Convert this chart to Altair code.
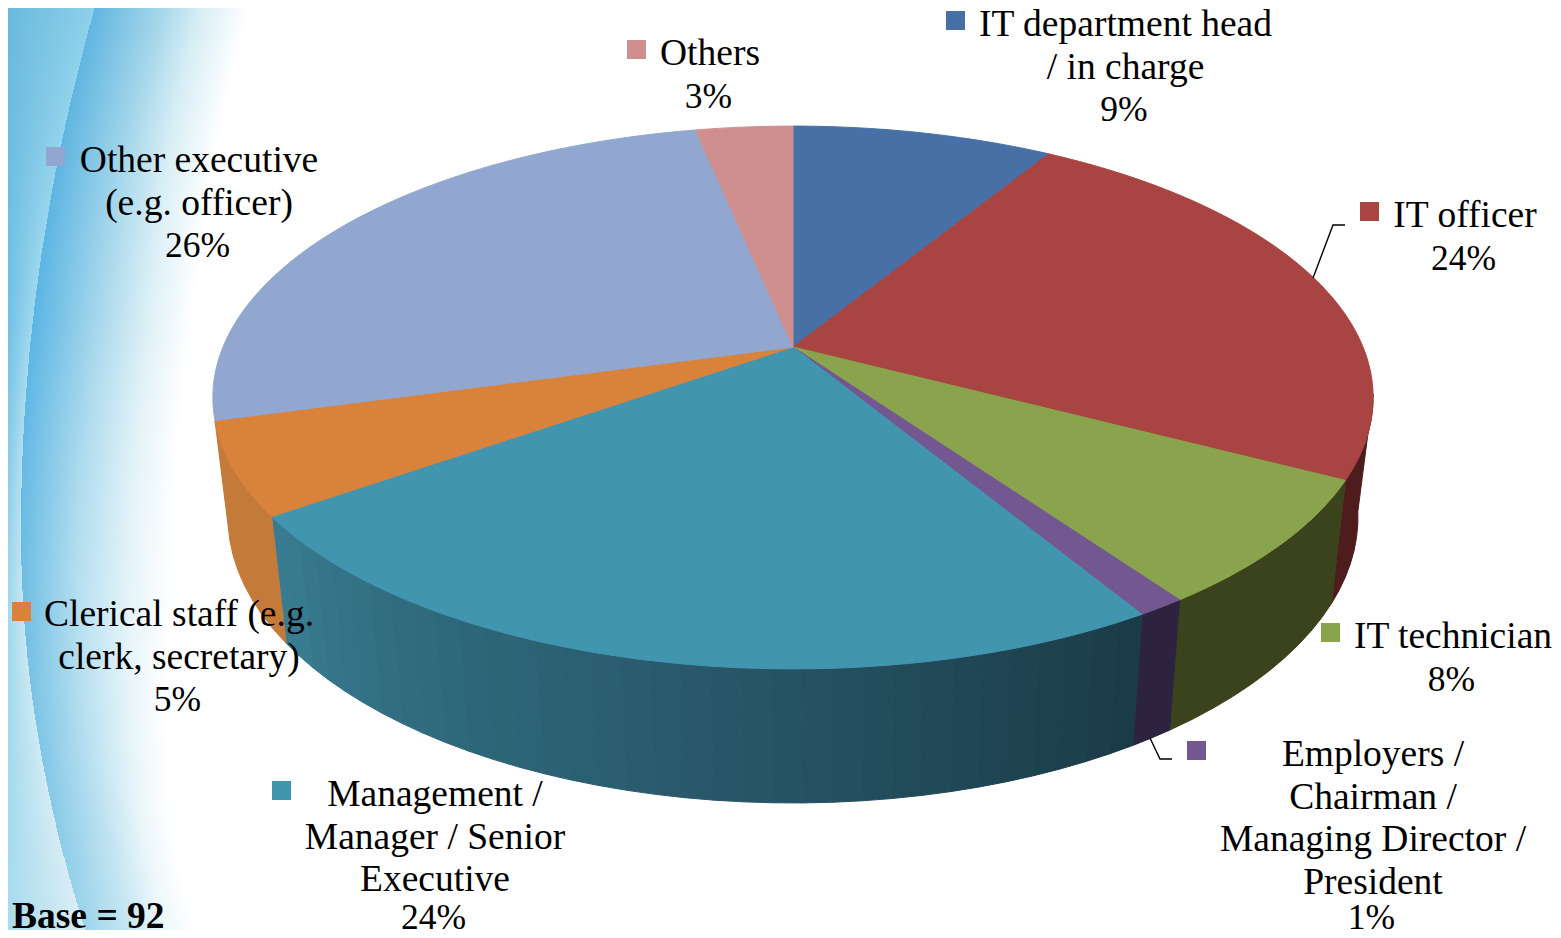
import math
import altair as alt

# ---------- chart values ----------
categories = ["IT department head / in charge", "IT officer", "IT technician",
              "Employers / Chairman / Managing Director / President",
              "Management / Manager / Senior Executive",
              "Clerical staff (e.g. clerk, secretary)",
              "Other executive (e.g. officer)", "Others"]
printed_pct = [9, 24, 8, 1, 24, 5, 26, 3]
drawn_share = [8.7, 24.0, 7.55, 1.15, 23.8, 5.5, 26.06, 3.24]
label_lines = [["IT department head", "/ in charge"], ["IT officer"], ["IT technician"],
               ["Employers /", "Chairman /", "Managing Director /", "President"],
               ["Management /", "Manager / Senior", "Executive"],
               ["Clerical staff (e.g.", "clerk, secretary)"],
               ["Other executive", "(e.g. officer)"], ["Others"]]
base_note = "Base = 92"

# ---------- styles and layout (image pixels) ----------
W, H, OFF = 1545, 922, 8
top_colors = ["#4670a6", "#a84543", "#89a44d", "#725791", "#4295af", "#d9823b", "#91a7cf", "#cf8f8f"]
wall_colors = ["#2b4566", "#4e1c1c", "#3a431c", "#2d2340", None, "#c47a38", "#c47a38", "#7d5656"]
mgmt_wall_stops = [(0.0, (58, 125, 146)), (0.25, (47, 106, 125)), (0.55, (40, 88, 106)), (1.0, (26, 59, 71))]
key_xy = [(946, 11), (1360, 202), (1321, 623), (1187, 741), (272, 781), (12, 602), (46, 147), (627, 40)]
label_xy = [(1125.5, 36), (1465, 227), (1453, 648), (1373, 766), (435, 806), (179, 626), (199, 172), (710, 65)]
LINE = 42.5
FONT, PCT_FONT = 37.5, 35.5
BOTTOM_LIMIT = 929
leaders = [[(1345, 225), (1333, 225), (1313, 278)], [(1150, 738), (1160, 759), (1172, 759)]]

# projective model of the tilted disc
TOP = dict(x=793, y=347, A=570, d=262, c=0.186)
BOT = dict(x=793, y=472, A=558, d=279, c=0.157)


def rim(p, deg):
    t = math.radians(deg)
    u, v = math.sin(t), math.cos(t)
    k = 1 + p["c"] * v
    return [p["x"] + p["A"] * u / k, p["y"] - p["d"] * v / k]


def low(deg):
    return rim(BOT, deg + 0.025 * (deg - 185))


def feature(ring, color):
    return {"type": "Feature", "properties": {"fill": color},
            "geometry": {"type": "Polygon", "coordinates": [ring + [ring[0]]]}}


def mix(stops, t):
    for (a, ca), (b, cb) in zip(stops, stops[1:]):
        if t <= b:
            f = (t - a) / (b - a)
            return tuple(ca[i] + (cb[i] - ca[i]) * f for i in range(3))
    return stops[-1][1]


def hex_of(c):
    return "#%02x%02x%02x" % tuple(int(round(x)) for x in c)


edges = [0.0]
for s in drawn_share:
    edges.append(edges[-1] + s * 3.6)

walls, tops = [], []
for i, col in enumerate(top_colors):
    a0, a1 = edges[i], edges[i + 1]
    s0, s1 = max(a0, 100.0), min(a1, 254.5)
    if s1 > s0:
        n = max(2, int((s1 - s0) / 2.5))
        if wall_colors[i] is not None:
            angs = [s0 + (s1 - s0) * j / n for j in range(n + 1)]
            ring = [rim(TOP, a) for a in angs] + [low(a) for a in reversed(angs)]
            walls.append(feature(ring, wall_colors[i]))
        else:
            for j in range(n):
                p, q = s0 + (s1 - s0) * j / n, s0 + (s1 - s0) * (j + 1) / n
                ring = [rim(TOP, p), rim(TOP, q), low(q), low(p)]
                walls.append(feature(ring, hex_of(mix(mgmt_wall_stops, 1 - (j + .5) / n))))
    n = max(3, int((a1 - a0) / 1.0))
    ring = [[TOP["x"], TOP["y"]]] + [rim(TOP, a0 + (a1 - a0) * j / n) for j in range(n + 1)]
    tops.append(feature(ring, col))

# background swoosh: one gradient row per 2 image pixels
# y, [left edge, at the curve, just right of it, middle, near white], offsets right of curve, white at
shade = [
    (0, ["#6ab9dd", "#8cd0ea", "#62b5df", "#a8d8eb", "#d5edf5"], 70, 105, 155),
    (320, ["#6fc0e4", "#a0d8ee", "#5ab5e4", "#a9d8ec", "#dff1f7"], 67, 117, 160),
    (600, ["#a0d8ec", "#c5e6f2", "#6fbde3", "#b5dff0", "#e8f5fa"], 55, 110, 150),
    (830, ["#a5daed", "#d5ecf5", "#8acbe8", "#c0e3f1", "#eaf6fa"], 50, 85, 115),
    (938, ["#a8dcee", "#dcedf5", "#9fd6ec", "#c5e6f2", "#f0f9fb"], 42, 82, 112),
]


def rgb(h):
    return tuple(int(h[i:i + 2], 16) for i in (1, 3, 5))


def curve_x(y):
    k = 2.706e-4 if y < 530 else 4.02e-4
    return 21 + k * (y - 530) ** 2


SPAN = 320
rows = []
for y in range(8, 930, 2):
    yc = y + 1
    cx = curve_x(yc)
    for (a, ca, a1, a2, a3), (b, cb, b1, b2, b3) in zip(shade, shade[1:]):
        if yc <= b:
            f = (yc - a) / (b - a)
            cols = [hex_of(tuple(p + (q - p) * f for p, q in zip(rgb(ca[k]), rgb(cb[k])))) for k in range(5)]
            o1, o2, o3 = a1 + (b1 - a1) * f, a2 + (b2 - a2) * f, a3 + (b3 - a3) * f
            break
    pos = [(0, cols[0]), (cx, cols[1]), (cx + 0.01, cols[2]), (cx + o1, cols[3]), (cx + o2, cols[4]),
           (cx + o3, "#ffffff"), (SPAN, "#ffffff")]
    rows.append({"x0": 0, "x1": SPAN - OFF, "y0": y - OFF, "y1": y + 2 - OFF,
                 "grad": {"gradient": "linear", "x1": 0, "y1": 0, "x2": 1, "y2": 0,
                          "stops": [{"offset": min(1, max(0, (p - OFF) / (SPAN - OFF))), "color": c}
                                    for p, c in pos]}})

bg = alt.Chart(alt.Data(values=rows)).mark_rect().encode(
    x=alt.X("x0:Q", scale=None), x2="x1:Q",
    y=alt.Y("y0:Q", scale=None), y2="y1:Q",
    color=alt.Color("grad:N", scale=None))


def shapes(feats):
    return alt.Chart(alt.Data(values=feats)).mark_geoshape(strokeWidth=1).encode(
        color=alt.Color("properties.fill:N", scale=None),
        stroke=alt.Stroke("properties.fill:N", scale=None)
    ).project(type="identity", scale=1, translate=[-OFF, -OFF])


key_rows = [{"x": x - OFF, "x2": x + 19 - OFF, "y": y - OFF, "y2": y + 19 - OFF, "c": c}
            for (x, y), c in zip(key_xy, top_colors)]
keys = alt.Chart(alt.Data(values=key_rows)).mark_rect().encode(
    x=alt.X("x:Q", scale=None), x2="x2:Q", y=alt.Y("y:Q", scale=None), y2="y2:Q",
    color=alt.Color("c:N", scale=None))

name_rows, pct_rows = [], []
for lines, pct, (x, y) in zip(label_lines, printed_pct, label_xy):
    for n, t in enumerate(lines):
        name_rows.append({"x": x - OFF, "y": y + n * LINE - OFF, "t": t})
    pct_rows.append({"x": x - 1.5 - OFF, "y": min(BOTTOM_LIMIT, y + len(lines) * LINE) - OFF, "t": f"{pct}%"})


def text_layer(table, size):
    return alt.Chart(alt.Data(values=table)).mark_text(
        font="Liberation Serif", fontSize=size, align="center", baseline="alphabetic", color="#000000"
    ).encode(x=alt.X("x:Q", scale=None), y=alt.Y("y:Q", scale=None), text="t:N")


note = alt.Chart(alt.Data(values=[{"x": 12 - OFF, "y": 928 - OFF, "t": base_note}])).mark_text(
    font="Liberation Serif", fontSize=FONT, fontWeight="bold", align="left", baseline="alphabetic", color="#000000"
).encode(x=alt.X("x:Q", scale=None), y=alt.Y("y:Q", scale=None), text="t:N")

lead_rows = [{"x": x - OFF, "y": y - OFF, "k": k, "o": o}
             for k, pts in enumerate(leaders) for o, (x, y) in enumerate(pts)]
lead = alt.Chart(alt.Data(values=lead_rows)).mark_line(color="#000000", strokeWidth=1.4).encode(
    x=alt.X("x:Q", scale=None), y=alt.Y("y:Q", scale=None), detail="k:N", order="o:Q")

chart = alt.layer(bg, shapes(walls), shapes(tops), lead, keys,
                  text_layer(name_rows, FONT), text_layer(pct_rows, PCT_FONT), note).properties(
    width=W, height=H, padding=0, autosize=alt.AutoSizeParams(type="none"),
    background="#ffffff"
).configure_view(stroke=None)

chart.save("out.html", embed_options={"renderer": "svg", "actions": False})
